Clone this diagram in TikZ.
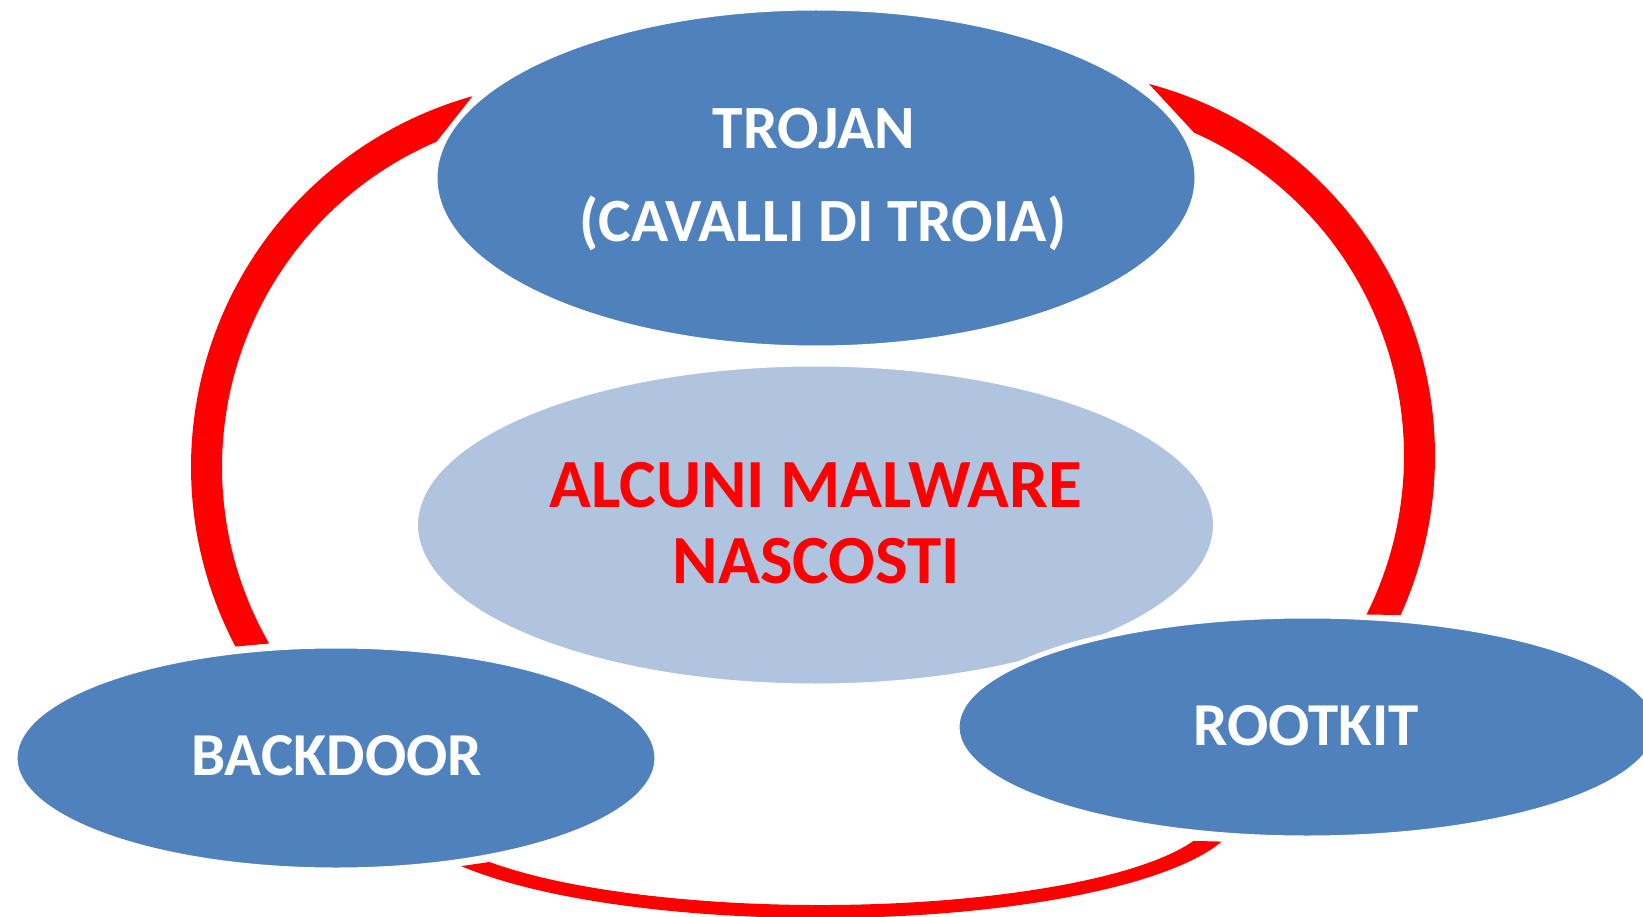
\documentclass[tikz,border=0pt]{standalone}
\usepackage{fontspec}
\setmainfont{Carlito}
\usetikzlibrary{shapes.geometric,calc}
\definecolor{nodeblue}{RGB}{79,129,189}
\definecolor{hubblue}{RGB}{176,196,224}
\definecolor{ringred}{RGB}{255,0,0}
\begin{document}
\begin{tikzpicture}[x=1pt,y=-1pt,
  blob/.style={ellipse, draw=white, line width=5pt, fill=nodeblue, inner sep=0pt},
  hub/.style={blob, fill=hubblue},
  arcband/.style={fill=ringred},
  whitetxt/.style={text=white, font=\bfseries\fontsize{61.5}{61.5}\selectfont, inner sep=0pt, anchor=base},
  redtxt/.style={text=ringred, font=\bfseries\fontsize{69}{69}\selectfont, inner sep=0pt, anchor=base}]
% canvas
\fill[white] (0,0) rectangle (1643,917);
\useasboundingbox (0,0) rectangle (1643,917);

% red cycle bands (left, right, bottom)
\fill[arcband] ($(576,467)+(152.2:385)$)
  arc[start angle=152.2, end angle=254.4, radius=385]
  -- ($(576,467)+(246.8:354)$)
  arc[start angle=246.8, end angle=150.1, radius=354] -- cycle;
\fill[arcband] ($(1050,456)+(-75.1:385)$)
  arc[start angle=-75.1, end angle=24.4, radius=385]
  -- ($(1050,456)+(26.6:354)$)
  arc[start angle=26.6, end angle=-66.0, radius=354] -- cycle;
\fill[arcband] ($(820,810)+(19:395 and 95)$)
  arc[start angle=19, end angle=146.8, x radius=395, y radius=95]
  -- ($(820,810)+(148.7:420 and 108)$)
  arc[start angle=148.7, end angle=17, x radius=420, y radius=108] -- cycle;

% ellipses
\node[hub, minimum width=800pt, minimum height=322pt] (hub) at (815.5,525) {};
\node[blob, minimum width=762pt, minimum height=340pt] (trojan) at (816,178) {};
\node[blob, minimum width=642pt, minimum height=224pt] (backdoor) at (336,758) {};
\node[blob, minimum width=700pt, minimum height=222pt] (rootkit) at (1307,727) {};

% labels
\node[whitetxt] (trojan-a) at (814,149) {TROJAN};
\node[whitetxt] (trojan-b) at (823,242) {(CAVALLI DI TROIA)};
\node[redtxt] (hub-a) at (815.5,507) {ALCUNI MALWARE};
\node[redtxt] (hub-b) at (816.5,583) {NASCOSTI};
\node[whitetxt, font=\bfseries\fontsize{61}{61}\selectfont] (backdoor-t) at (336.5,775) {BACKDOOR};
\node[whitetxt, font=\bfseries\fontsize{61}{61}\selectfont] (rootkit-t) at (1306,745) {ROOTKIT};
\end{tikzpicture}
\end{document}
